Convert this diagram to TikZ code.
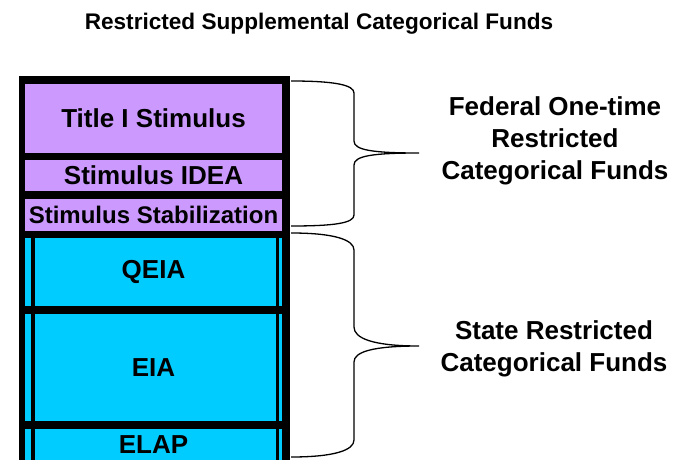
\documentclass[tikz,border=0pt]{standalone}
\usepackage{fontspec}
\setmainfont{Liberation Sans}
\usepackage{tikz}
\usetikzlibrary{positioning}

\definecolor{fedpurple}{HTML}{CC99FF}
\definecolor{statecyan}{HTML}{00CCFF}

\begin{document}
\begin{tikzpicture}[x=1pt,y=-1pt,
			fund/.style={
				inner sep=0pt,
				minimum width=257pt,
				align=center,
				font=\bfseries\fontsize{26}{32}\selectfont},
			fedbox/.style={fund,fill=fedpurple},
			statebox/.style={fund,fill=statecyan,
				path picture={
					\fill[black] ([xshift=6pt]path picture bounding box.north west) rectangle ([xshift=10pt]path picture bounding box.south west);
					\fill[black] ([xshift=-6pt]path picture bounding box.north east) rectangle ([xshift=-3pt]path picture bounding box.south east);}},
			label/.style={align=center,font=\bfseries\fontsize{26}{32}\selectfont},
			brace/.style={line width=1.3pt}]
			
			\clip (0,0) rectangle (682,460);
			
			\node (title)[font=\bfseries\fontsize{22.6}{27}\selectfont] at (319,24){Restricted Supplemental Categorical Funds};
			
			\fill (19,76) rectangle (289.5,470);
			
			\node (title1)[fedbox,minimum height=69pt] at (153.5,118.5){Title I Stimulus};
			
			\node (idea)[fedbox,minimum height=31pt] at (153.5,175.5){Stimulus IDEA};
			
			\node (stab)[fedbox,minimum height=32pt,font=\bfseries\fontsize{24}{28}\selectfont] at (153.5,215){Stimulus Stabilization};
			
			\node (qeia)[statebox,minimum height=68pt] at (153.5,272){QEIA};
			
			\node (eia)[statebox,minimum height=107pt] at (153.5,367.5){EIA};
			
			\node (elap)[statebox,minimum height=32pt] at (153.5,445){ELAP};
			
			\draw[brace](291,81) .. controls (335,81) and (354,85) .. (354,93) -- (354,141)
				.. controls (354,150) and (372,153) .. (419,153)
				.. controls (372,153) and (354,156) .. (354,165) -- (354,215)
				.. controls (354,223) and (335,226) .. (291,226);
			
			\draw[brace](291,233) .. controls (335,233) and (354,240) .. (354,250) -- (354,327)
				.. controls (354,338) and (372,346) .. (419,346)
				.. controls (372,346) and (354,352) .. (354,362) -- (354,440)
				.. controls (354,450) and (335,457) .. (291,457);
			
			\node (federal)[label] at (555,141){Federal One-time\\Restricted\\Categorical Funds};
			
			\node (state)[label] at (554,349){State Restricted\\Categorical Funds};
			
		\end{tikzpicture}
\end{document}
